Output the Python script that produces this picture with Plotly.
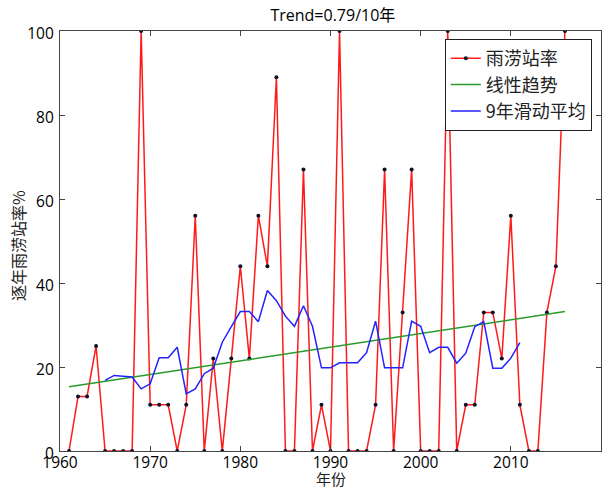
import plotly.graph_objects as go

years = list(range(1961, 2017))
rate = [0, 13, 13, 25, 0, 0, 0, 0, 100, 11,
        11, 11, 0, 11, 56, 0, 22, 0, 22, 44,
        22, 56, 44, 89, 0, 0, 67, 0, 11, 0,
        100, 0, 0, 0, 11, 67, 0, 33, 67, 0,
        0, 0, 100, 0, 11, 11, 33, 33, 22, 56,
        11, 0, 0, 33, 44, 100]

ma_years = list(range(1965, 2012))
ma_values = [16.8, 18.0, 17.8, 17.6, 14.8, 16.0, 22.2, 22.2, 24.7, 13.6,
             14.8, 18.4, 19.7, 25.9, 29.6, 33.2, 33.2, 30.8, 38.2, 35.8,
             32.1, 29.7, 34.6, 29.7, 19.8, 19.8, 21.0, 21.0, 21.0, 23.4,
             30.9, 19.8, 19.8, 19.8, 30.9, 29.7, 23.4, 24.7, 24.7, 20.9,
             23.3, 29.6, 30.8, 19.7, 19.7, 22.1, 25.8]

trend_years = [1961, 2016]
trend_values = [15.3, 33.2]

x_ticks = [1960, 1970, 1980, 1990, 2000, 2010, 2020]
y_ticks = [0, 20, 40, 60, 80, 100]

FONT = "Open Sans, Noto Sans CJK SC, sans-serif"
CJK = "Noto Sans CJK SC, sans-serif"

fig = go.Figure()
fig.add_trace(go.Scatter(
    x=years, y=rate, mode="lines+markers", name="雨涝站率",
    line=dict(color="#ff1a1a", width=1.5),
    marker=dict(color="#101028", size=4)))
fig.add_trace(go.Scatter(
    x=trend_years, y=trend_values, mode="lines", name="线性趋势",
    line=dict(color="#2a9a2a", width=1.5)))
fig.add_trace(go.Scatter(
    x=ma_years, y=ma_values, mode="lines", name="9年滑动平均",
    line=dict(color="#2222ff", width=1.5)))

axis_common = dict(
    showline=True, linecolor="#444444", linewidth=1.2, mirror="ticks",
    ticks="inside", ticklen=5, tickcolor="#444444", showgrid=False,
    zeroline=False, automargin=False,
    tickfont=dict(family=FONT, size=15.5, color="#000000"))

fig.update_xaxes(range=[1960, 2020], tickvals=x_ticks, ticklabelstandoff=-3,
                 **axis_common)
fig.update_yaxes(range=[0, 100], tickvals=y_ticks, ticklabelstandoff=2,
                 ticklabelshift=3, **axis_common)

fig.update_layout(
    width=613, height=489,
    margin=dict(l=60, r=12, t=31, b=38),
    paper_bgcolor="white", plot_bgcolor="white",
    title=dict(text="Trend=0.79/10年", x=0.543, xanchor="center", y=0.968, yanchor="middle",
               font=dict(family=FONT, size=16, color="#000")),
    legend=dict(x=0.983, y=0.981, xanchor="right", yanchor="top",
                bordercolor="#222222", borderwidth=1, bgcolor="white",
                font=dict(family=CJK, size=18, color="#222"),
                tracegroupgap=0, itemwidth=30),
    showlegend=True,
    annotations=[
        dict(text="年份", xref="paper", yref="paper", x=0.5, y=-0.066,
             xanchor="center", yanchor="middle", showarrow=False, borderpad=0,
             font=dict(family=CJK, size=15, color="#222")),
        dict(text="逐年雨涝站率%", xref="paper", yref="paper", x=-0.078, y=0.49,
             xanchor="center", yanchor="middle", textangle=-90, showarrow=False,
             font=dict(family=CJK, size=16, color="#222")),
    ],
)

fig.write_html("out.html")
